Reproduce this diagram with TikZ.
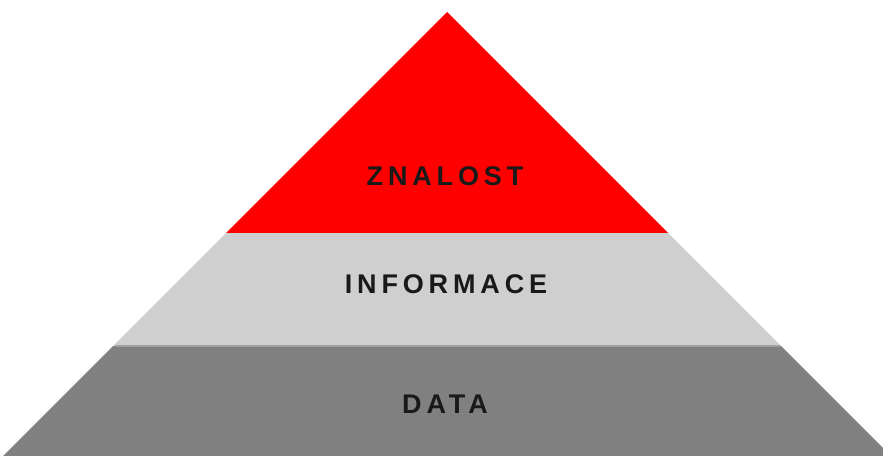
\documentclass[tikz,border=0pt]{standalone}
\usepackage{fontspec}
\setmainfont{Liberation Sans}
\newfontfamily\labelfont[LetterSpace=18]{Liberation Sans}
\begin{document}
\begin{tikzpicture}[x=1pt,y=-1pt,
  lvl/.style={font=\labelfont\fontsize{27}{27}\selectfont\bfseries, text=black!90, inner sep=0pt, anchor=center}]
\useasboundingbox (0,0) rectangle (883,455);
\begin{scope}
\clip (0,0) rectangle (883,455);
% bands
\fill[red] (447,12) -- (668,233) -- (226,233) -- cycle;
\fill[gray!38] (226,233) -- (668,233) -- (781,346) -- (113,346) -- cycle;
\fill[gray] (113,346) -- (781,346) -- (895,460) -- (-1,460) -- cycle;
\draw[line width=1.5pt, color={rgb,255:red,200;green,208;blue,208}] (228,234) -- (667,234);
\draw[line width=1.2pt, color={rgb,255:red,160;green,160;blue,160}] (115,346) -- (780,346);
\end{scope}
\node[lvl] (k) at (445,176) {ZNALOST};
\node[lvl] (i) at (446,284) {INFORMACE};
\node[lvl] (d) at (445,404) {DATA};
\end{tikzpicture}
\end{document}
